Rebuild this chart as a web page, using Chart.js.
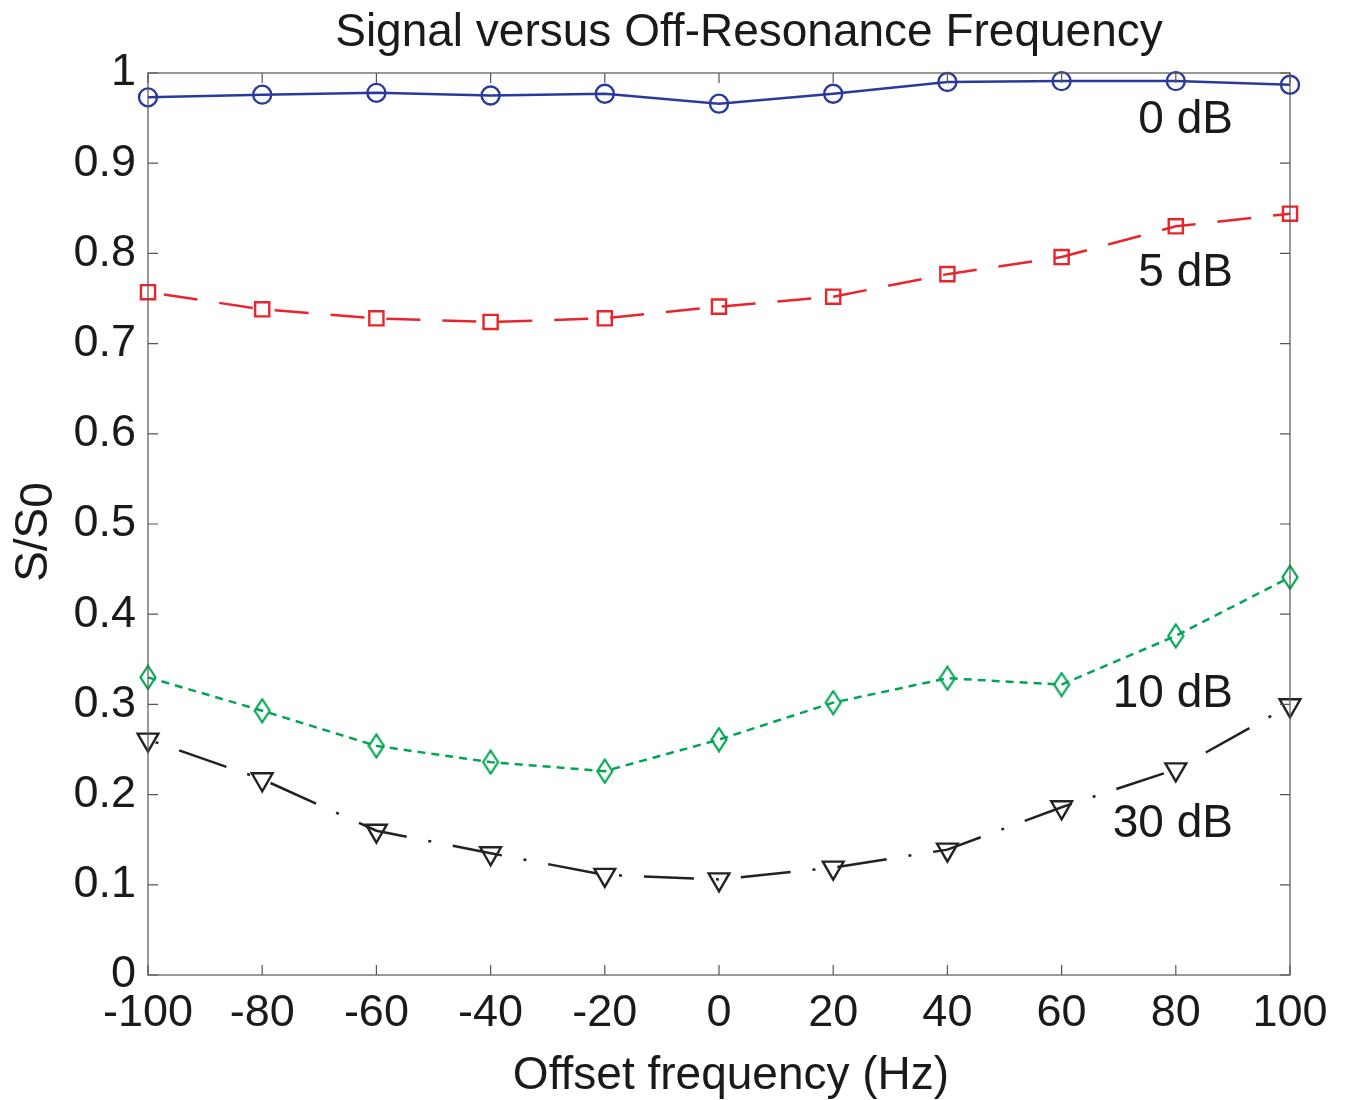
<!DOCTYPE html>
<html>
<head>
<meta charset="utf-8">
<script src="https://cdn.jsdelivr.net/npm/chart.js@4"></script>
<style>
  html, body { margin: 0; padding: 0; background: #fff; }
  #wrap { width: 1363px; height: 1100px; }
</style>
</head>
<body>
<div id="wrap"><canvas id="offresChart" width="1363" height="1100"></canvas></div>
<script>
// Offset frequencies (Hz)
const freqs = [-100, -80, -60, -40, -20, 0, 20, 40, 60, 80, 100];

// S/S0 for each attenuation
const s0dB  = [0.973, 0.976, 0.978, 0.975, 0.977, 0.966, 0.977, 0.990, 0.991, 0.991, 0.987];
const s5dB  = [0.757, 0.738, 0.728, 0.724, 0.728, 0.741, 0.752, 0.777, 0.796, 0.830, 0.844];
const s10dB = [0.330, 0.293, 0.254, 0.236, 0.226, 0.261, 0.302, 0.329, 0.322, 0.376, 0.441];
const s30dB = [0.261, 0.217, 0.160, 0.135, 0.111, 0.106, 0.119, 0.139, 0.186, 0.228, 0.299];

// Curve labels and where they sit (data coords)
const curveLabels = ['0 dB', '5 dB', '10 dB', '30 dB'];
const labelY = [0.948, 0.778, 0.311, 0.167];
const labelX = 90;

const xTicks = [-100, -80, -60, -40, -20, 0, 20, 40, 60, 80, 100];

const FONT = '"Liberation Sans", Arial, Helvetica, sans-serif';
const TXT = '#1a1a1a';

function pts(ys) {
    return freqs.map((f, i) => ({ x: f, y: ys[i] }));
}

// Diamond marker (taller than wide, like MATLAB 'd')
function diamondMarker(color) {
    const c = document.createElement('canvas');
    c.width = 18; c.height = 26;
    const g = c.getContext('2d');
    g.strokeStyle = color;
    g.lineWidth = 2.2;
    g.beginPath();
    g.moveTo(9, 1.5); g.lineTo(16.5, 13); g.lineTo(9, 24.5); g.lineTo(1.5, 13);
    g.closePath();
    g.stroke();
    return c;
}

// Frame + inward ticks on all four sides, plus texts
const frame = {
    id: 'frame',
    afterDraw(chart) {
        const { ctx, chartArea: a, scales } = chart;
        const tl = 10;
        ctx.save();
        ctx.strokeStyle = '#555';
        ctx.lineWidth = 1.2;
        ctx.strokeRect(a.left, a.top, a.right - a.left, a.bottom - a.top);
        ctx.beginPath();
        scales.x.ticks.forEach(t => {
            const px = scales.x.getPixelForValue(t.value);
            ctx.moveTo(px, a.bottom); ctx.lineTo(px, a.bottom - tl);
            ctx.moveTo(px, a.top); ctx.lineTo(px, a.top + tl);
        });
        scales.y.ticks.forEach(t => {
            const py = scales.y.getPixelForValue(t.value);
            ctx.moveTo(a.left, py); ctx.lineTo(a.left + tl, py);
            ctx.moveTo(a.right, py); ctx.lineTo(a.right - tl, py);
        });
        ctx.stroke();

        ctx.fillStyle = TXT;
        // title
        ctx.font = '46px ' + FONT;
        ctx.textAlign = 'center';
        ctx.textBaseline = 'middle';
        ctx.fillText('Signal versus Off-Resonance Frequency', (a.left + a.right) / 2 + 30, 33);
        // x title
        ctx.fillText('Offset frequency (Hz)', (a.left + a.right) / 2 + 12, 1076);
        // y title with lowered 0
        ctx.save();
        ctx.translate(34, (a.top + a.bottom) / 2 + 8);
        ctx.rotate(-Math.PI / 2);
        const w1 = ctx.measureText('S/S').width;
        const w2 = ctx.measureText('0').width;
        ctx.textAlign = 'left';
        ctx.fillText('S/S', -(w1 + w2) / 2, 0);
        ctx.fillText('0', -(w1 + w2) / 2 + w1, 5);
        ctx.restore();
        // curve labels
        ctx.textAlign = 'right';
        curveLabels.forEach((s, i) => {
            ctx.fillText(s, scales.x.getPixelForValue(labelX), scales.y.getPixelForValue(labelY[i]));
        });
        ctx.restore();
    }
};

const ctx = document.getElementById('offresChart').getContext('2d');
new Chart(ctx, {
    type: 'line',
    data: {
        datasets: [
            {
                label: '0 dB',
                data: pts(s0dB),
                borderColor: '#2a3a9c',
                borderWidth: 2.5,
                pointStyle: 'circle',
                pointRadius: 9,
                pointBorderWidth: 2.4,
                pointBackgroundColor: 'rgba(0,0,0,0)',
                pointBorderColor: '#2a3a9c',
                tension: 0,
                clip: false
            },
            {
                label: '5 dB',
                data: pts(s5dB),
                borderColor: '#e8242c',
                borderWidth: 2.5,
                borderDash: [34, 22],
                borderDashOffset: 40,
                pointStyle: 'rect',
                pointRadius: 10,
                pointBorderWidth: 2.4,
                pointBackgroundColor: 'rgba(0,0,0,0)',
                pointBorderColor: '#e8242c',
                tension: 0,
                clip: false
            },
            {
                label: '10 dB',
                data: pts(s10dB),
                borderColor: '#00a651',
                borderWidth: 2.5,
                borderDash: [8, 6],
                pointStyle: diamondMarker('#00a651'),
                pointRadius: 10,
                tension: 0,
                clip: false
            },
            {
                label: '30 dB',
                data: pts(s30dB),
                borderColor: '#222',
                borderWidth: 2.5,
                borderDash: [50, 22, 3, 22],
                borderDashOffset: 64,
                pointStyle: 'triangle',
                rotation: 180,
                pointRadius: 12,
                pointBorderWidth: 2.4,
                pointBackgroundColor: 'rgba(0,0,0,0)',
                pointBorderColor: '#222',
                tension: 0,
                clip: false
            }
        ]
    },
    options: {
        responsive: false,
        animation: false,
        layout: { padding: { left: 0, right: 73, top: 73, bottom: 0 } },
        plugins: {
            legend: { display: false },
            tooltip: { enabled: false },
            title: { display: false }
        },
        scales: {
            x: {
                type: 'linear',
                min: -100,
                max: 100,
                afterBuildTicks: scale => { scale.ticks = xTicks.map(v => ({ value: v })); },
                afterFit: scale => { scale.height = 125; },
                grid: { drawOnChartArea: false, drawTicks: false },
                border: { display: false },
                ticks: {
                    color: TXT,
                    font: { family: FONT, size: 45 },
                    padding: 12,
                    maxRotation: 0,
                    autoSkip: false,
                    callback: v => String(v)
                }
            },
            y: {
                min: 0,
                max: 1,
                afterFit: scale => { scale.width = 148; },
                grid: { drawOnChartArea: false, drawTicks: false },
                border: { display: false },
                ticks: {
                    stepSize: 0.1,
                    color: TXT,
                    font: { family: FONT, size: 45 },
                    padding: 12,
                    callback: v => String(+v.toFixed(1))
                }
            }
        }
    },
    plugins: [frame]
});
</script>
</body>
</html>
